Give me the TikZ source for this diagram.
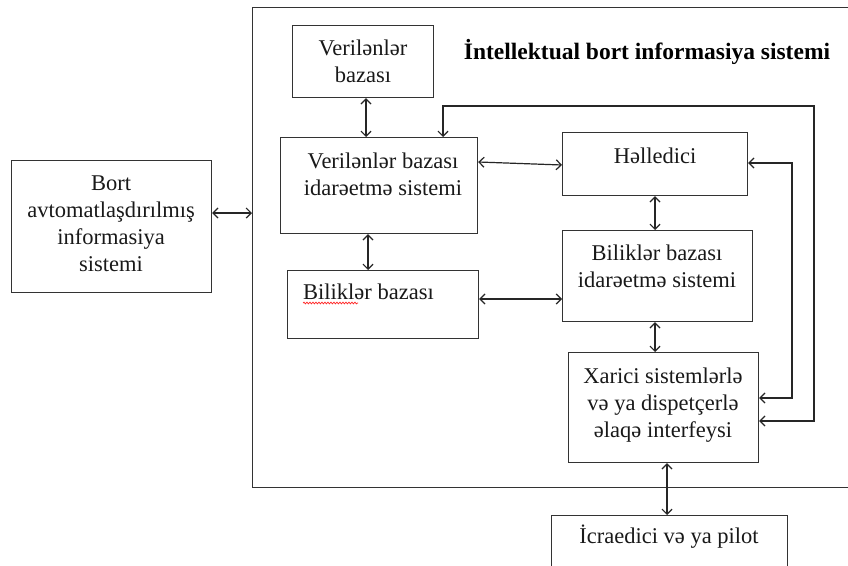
\documentclass[tikz,border=0pt]{standalone}
\usepackage{fontspec}
\setmainfont{Liberation Serif}
\usetikzlibrary{arrows.meta,calc,decorations.pathmorphing}
\begin{document}
\begin{tikzpicture}[x=1pt,y=-1pt,
  box/.style={draw=black!80,line width=1.2pt,inner sep=0,anchor=north west,fill=none},
  txt/.style={font=\fontsize{22.5}{27}\selectfont,align=center,inner sep=0,text=black!90},
  ttl/.style={font=\fontsize{23.5}{27}\selectfont\bfseries,inner sep=0},
  conn/.style={draw=black!85,line width=1.2pt,{Straight Barb[length=5pt,width=10pt]}-{Straight Barb[length=5pt,width=10pt]}},
]
\useasboundingbox (0,0) rectangle (848,565);
\fill[white] (0,0) rectangle (848,565);
\clip (0,0) rectangle (848,565);

% outer frame (right side beyond the picture)
\node[box,minimum width=640pt,minimum height=480pt] (frame) at (252,7) {};

% boxes
\node[box,minimum width=141pt,minimum height=72pt] (vb) at (292,25) {};
\node[box,minimum width=197pt,minimum height=96pt] (vbis) at (280,137) {};
\node[box,minimum width=185pt,minimum height=63pt] (hell) at (562,132) {};
\node[box,minimum width=191pt,minimum height=68pt] (bb) at (287,270) {};
\node[box,minimum width=190pt,minimum height=91pt] (bbis) at (562,230) {};
\node[box,minimum width=190pt,minimum height=110pt] (xar) at (568,352) {};
\node[box,minimum width=236pt,minimum height=80pt] (icr) at (551,515) {};
\node[box,minimum width=200pt,minimum height=132pt] (bort) at (11,160) {};

% texts
\node[ttl] (title) at (647,52) {İntellektual bort informasiya sistemi};
\node[txt] (vbT) at (363,61) {Verilənlər\\bazası};
\node[txt] (vbisT) at (383,174) {Verilənlər bazası\\idarəetmə sistemi};
\node[txt] (hellT) at (655,156) {Həlledici};
\node[txt,anchor=west] (bbT) at (303,292) {Biliklər bazası};
\node[txt] (bbisT) at (657,266) {Biliklər bazası\\idarəetmə sistemi};
\node[txt] (xarT) at (663,405) {Xarici sistemlərlə\\və ya dispetçerlə\\əlaqə interfeysi};
\node[txt] (icrT) at (669,537) {İcraedici və ya pilot};
\node[txt] (bortT) at (111,224) {Bort\\avtomatlaşdırılmış\\informasiya\\sistemi};

% spell-check squiggle
\draw[red!85,line width=0.7pt,decorate,decoration={snake,amplitude=0.9pt,segment length=3pt}] (303,303) -- (358,303);

% connectors
\draw[conn] (bort.east |- 0,213) -- (frame.west |- 0,213);
\draw[conn] (vb.south -| 366,0) -- (vbis.north -| 366,0);
\draw[conn] (vbis.south -| 368,0) -- (bb.north -| 368,0);
\draw[conn] (vbis.east |- 0,162) -- (hell.west |- 0,165);
\draw[conn] (bb.east |- 0,299) -- (bbis.west |- 0,299);
\draw[conn] (hell.south -| 655,0) -- (bbis.north -| 655,0);
\draw[conn] (bbis.south -| 655,0) -- (xar.north -| 655,0);
\draw[conn] (xar.south -| 667,0) -- (icr.north -| 667,0);
\draw[conn] (xar.east |- 0,398) -- (792,398) -- (792,163) -- (hell.east |- 0,163);
\draw[conn] (xar.east |- 0,421) -- (814,421) -- (814,106) -- (443,106) -- (vbis.north -| 443,0);
\end{tikzpicture}
\end{document}
